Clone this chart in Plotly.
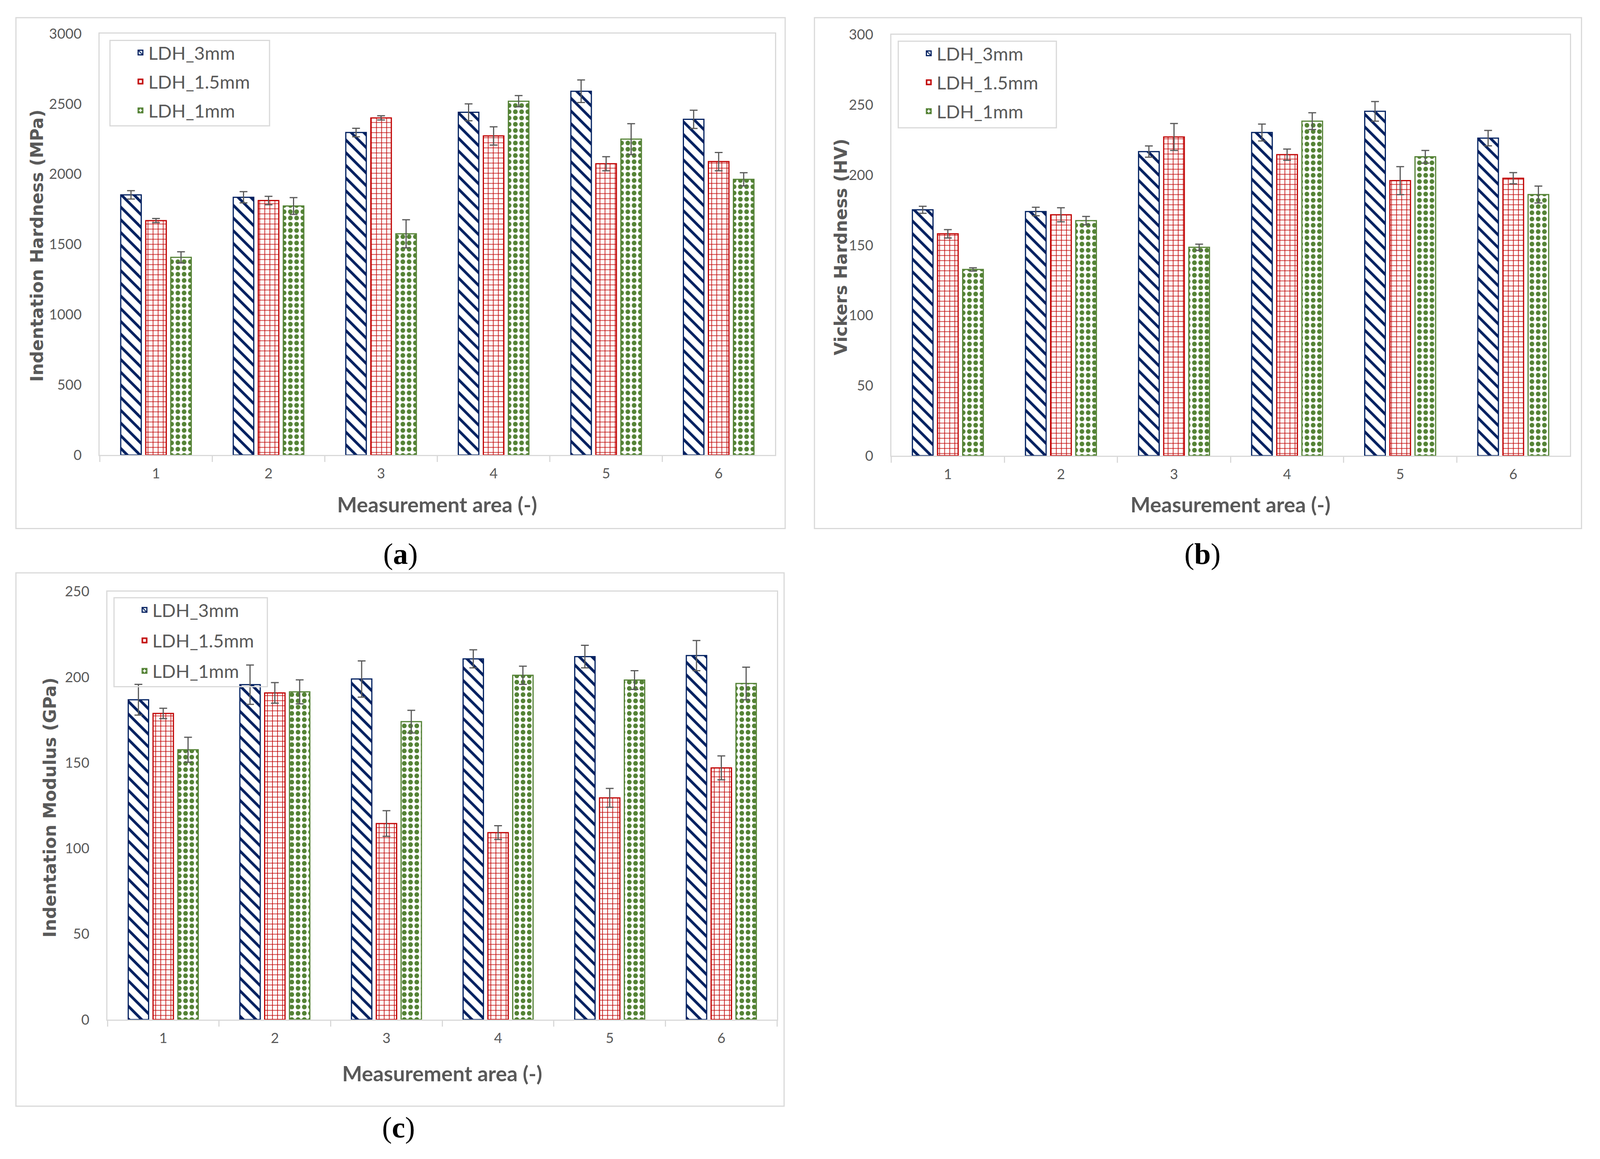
import plotly.graph_objects as go

# ---------------- data ----------------
areas = ["1", "2", "3", "4", "5", "6"]
series_names = ["LDH_3mm", "LDH_1.5mm", "LDH_1mm"]

# (a) Indentation hardness (MPa)
hit_3mm = [1852, 1835, 2296, 2440, 2590, 2390]
hit_3mm_err = [30, 40, 30, 60, 80, 65]
hit_15mm = [1669, 1812, 2400, 2272, 2074, 2089]
hit_15mm_err = [15, 30, 15, 65, 50, 65]
hit_1mm = [1407, 1773, 1575, 2519, 2249, 1963]
hit_1mm_err = [40, 60, 100, 40, 110, 47]

# (b) Vickers hardness (HV)
hv_3mm = [175.2, 174.0, 216.7, 230.3, 245.4, 226.3]
hv_3mm_err = [2.5, 3, 4, 6, 7, 5.5]
hv_15mm = [158.1, 171.7, 227.1, 214.5, 196.0, 197.7]
hv_15mm_err = [3, 5, 9.6, 4, 10, 4]
hv_1mm = [132.7, 167.5, 148.5, 238.4, 213.0, 186.1]
hv_1mm_err = [1.2, 3, 2.2, 6, 4.5, 6]

# (c) Indentation modulus (GPa)
eit_3mm = [186.8, 195.6, 198.9, 210.7, 212.0, 212.6]
eit_3mm_err = [9, 11.5, 10.6, 5.3, 6.6, 8.8]
eit_15mm = [178.8, 190.8, 114.5, 109.2, 129.5, 147.0]
eit_15mm_err = [3, 6, 7.5, 4, 5.5, 7]
eit_1mm = [157.6, 191.4, 174.0, 201.1, 198.3, 196.3]
eit_1mm_err = [7.3, 7, 6.6, 5.3, 5.5, 9.5]

y_titles = ["Indentation Hardness (MPa)", "Vickers Hardness (HV)", "Indentation Modulus (GPa)"]
x_title = "Measurement area (-)"
panel_labels = ["a", "b", "c"]
y_ranges = [(0, 3000, 500), (0, 300, 50), (0, 250, 50)]

panels = [
    [(hit_3mm, hit_3mm_err), (hit_15mm, hit_15mm_err), (hit_1mm, hit_1mm_err)],
    [(hv_3mm, hv_3mm_err), (hv_15mm, hv_15mm_err), (hv_1mm, hv_1mm_err)],
    [(eit_3mm, eit_3mm_err), (eit_15mm, eit_15mm_err), (eit_1mm, eit_1mm_err)],
]

# ---------------- styling ----------------
W, H = 4355, 2968
def px(x):
    return x / W
def py(y):
    return 1 - y / H

colors = ["#002060", "#C00000", "#548235"]
patterns = [
    dict(shape="\\", size=23, solidity=0.3),
    dict(shape="+", size=13, solidity=0.24),
    dict(shape=".", size=16, solidity=0.44),
]
GRAY_TXT = "#595959"
GRAY_LN = "#D9D9D9"

# plot-area pixel boxes (left, right, top, bottom)
plot_boxes = [(264, 2109, 78.6, 1163.4), (2427, 4281, 81.3, 1165.2), (285, 2115, 1515, 2617)]
panel_boxes = [(35, 2137, 37.5, 1352.7), (2217, 4313, 37.5, 1352.7), (35, 2134, 1467, 2840)]
legend_boxes = [(292, 728, 96, 316), (2446, 2878, 98, 321), (303, 722, 1531, 1760)]
legend_gaps = [10, 10, 14]
x_title_pos = [(1186, 1290), (3354, 1290), (1200, 2755)]
y_title_pos = [(92, 625), (2289, 628), (128, 2071)]
label_pos = [(1086, 1418), (3277, 1418), (1080, 2895)]

fig = go.Figure()
legend_keys = ["legend", "legend2", "legend3"]

for p, series in enumerate(panels):
    xa = "x" if p == 0 else f"x{p+1}"
    ya = "y" if p == 0 else f"y{p+1}"
    for s, (vals, errs) in enumerate(series):
        fig.add_trace(go.Bar(
            x=areas, y=vals, name=series_names[s],
            xaxis=xa, yaxis=ya,
            legend=legend_keys[p],
            legendgroup=f"{p}-{s}",
            marker=dict(
                color="white",
                line=dict(color=colors[s], width=3),
                pattern=dict(fgcolor=colors[s], bgcolor="white", fillmode="replace", **patterns[s]),
            ),
            error_y=dict(type="data", array=errs, visible=True, color=GRAY_TXT, thickness=3, width=10),
        ))

layout = dict(
    autosize=True,
    margin=dict(l=0, r=0, t=0, b=0),
    paper_bgcolor="white", plot_bgcolor="white",
    barmode="group", bargap=0.333, bargroupgap=0.18,
    shapes=[], annotations=[],
    font=dict(family="Lato", color=GRAY_TXT),
)

for p in range(3):
    l, r, t, b = plot_boxes[p]
    xk = "xaxis" if p == 0 else f"xaxis{p+1}"
    yk = "yaxis" if p == 0 else f"yaxis{p+1}"
    ya_ref = "y" if p == 0 else f"y{p+1}"
    xa_ref = "x" if p == 0 else f"x{p+1}"
    lo, hi, dt = y_ranges[p]
    layout[xk] = dict(
        domain=[px(l), px(r)], anchor=ya_ref, type="category",
        categoryorder="array", categoryarray=areas,
        tickson="boundaries", ticks="outside", ticklen=15, tickwidth=3, tickcolor=GRAY_LN,
        showline=True, linecolor=GRAY_LN, linewidth=3, mirror=True,
        showgrid=False, zeroline=False, automargin=False,
        tickfont=dict(family="Lato", size=36, color=GRAY_TXT),
        ticklabelstandoff=14,
    )
    layout[yk] = dict(
        domain=[py(b), py(t)], anchor=xa_ref,
        range=[lo, hi], dtick=dt, tick0=0,
        showline=True, linecolor=GRAY_LN, linewidth=3, mirror=True,
        showgrid=False, zeroline=False, ticks="", automargin=False,
        tickfont=dict(family="Lato", size=36, color=GRAY_TXT),
        ticklabelstandoff=36,
    )
    # panel border
    pl, pr, pt, pb = panel_boxes[p]
    layout["shapes"].append(dict(type="rect", xref="paper", yref="paper",
                                 x0=px(pl), x1=px(pr), y0=py(pb), y1=py(pt),
                                 line=dict(color=GRAY_LN, width=3), fillcolor="rgba(0,0,0,0)", layer="below"))
    # legend box
    ll, lr, lt, lb = legend_boxes[p]
    layout["shapes"].append(dict(type="rect", xref="paper", yref="paper",
                                 x0=px(ll), x1=px(lr), y0=py(lb), y1=py(lt),
                                 line=dict(color=GRAY_LN, width=3), fillcolor="rgba(0,0,0,0)"))
    layout[legend_keys[p]] = dict(
        x=px(ll + 62), y=py(lt - 6), xanchor="left", yanchor="top",
        bgcolor="rgba(0,0,0,0)", borderwidth=0,
        font=dict(family="Lato", size=47, color=GRAY_TXT),
        tracegroupgap=legend_gaps[p], orientation="v",
    )
    # axis titles
    xt, yt = x_title_pos[p]
    layout["annotations"].append(dict(text=x_title, xref="paper", yref="paper",
                                      x=px(xt), y=py(yt), xanchor="center", yanchor="middle",
                                      showarrow=False,
                                      font=dict(family="Lato", size=54, color=GRAY_TXT, weight="bold")))
    xt, yt = y_title_pos[p]
    layout["annotations"].append(dict(text=y_titles[p], xref="paper", yref="paper",
                                      x=px(xt), y=py(yt), xanchor="center", yanchor="middle",
                                      textangle=-90, showarrow=False,
                                      font=dict(family="DejaVu Sans", size=44, color=GRAY_TXT, weight="bold")))
    lx, lyy = label_pos[p]
    layout["annotations"].append(dict(text=f"(<b>{panel_labels[p]}</b>)", xref="paper", yref="paper",
                                      x=px(lx), y=py(lyy), xanchor="center", yanchor="middle",
                                      showarrow=False,
                                      font=dict(family="Liberation Serif", size=76, color="black")))

fig.update_layout(**layout)
fig.write_html("out.html", config={"responsive": True},
               default_width="calc(100vw - 16px)", default_height="calc(100vh - 16px)")
